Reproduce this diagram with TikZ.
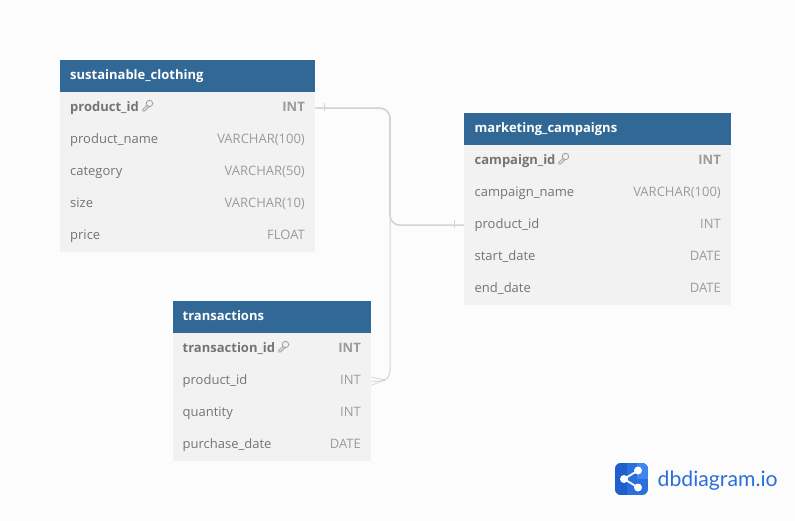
\documentclass[tikz,border=0pt]{standalone}
\usepackage{fontspec}
\setmainfont{Open Sans}
\newfontfamily\logofont{Lato}
\definecolor{bgc}{HTML}{FCFCFC}
\definecolor{headc}{HTML}{316896}
\definecolor{rowc}{HTML}{F2F2F2}
\definecolor{namec}{HTML}{747474}
\definecolor{typec}{HTML}{9B9B9B}
\definecolor{linec}{HTML}{D4D4D4}
\definecolor{logoa}{HTML}{2A6FDB}
\definecolor{logob}{HTML}{1F5FCB}
\definecolor{logoc}{HTML}{3F86EE}
\tikzset{
  head/.style={fill=headc,inner sep=0pt,anchor=north west,minimum height=32pt},
  rowbox/.style={fill=rowc,inner sep=0pt,anchor=north west,minimum height=32pt},
  title/.style={text=white,font=\fontsize{13}{13}\selectfont\bfseries,inner sep=0pt,anchor=base west},
  fname/.style={text=namec,font=\fontsize{13}{13}\selectfont,inner sep=0pt,anchor=base west},
  ftype/.style={text=typec,font=\fontsize{13}{13}\selectfont,inner sep=0pt,anchor=base east},
  pkname/.style={fname,font=\fontsize{13}{13}\selectfont\bfseries},
  pktype/.style={ftype,font=\fontsize{13}{13}\selectfont\bfseries},
  rel/.style={draw=linec,line width=1.6pt,rounded corners=10pt},
  relthin/.style={draw=linec,line width=1pt,rounded corners=10pt},
  tick/.style={draw=linec,line width=0.8pt},
  keyicon/.style={draw=typec,line width=0.8pt},
}
\newcommand{\keyat}[2]{%
  \draw[keyicon] (#1+7,#2-2.5) circle (3.2pt);
  \draw[keyicon] (#1+4.6,#2-0.6) -- (#1+0.3,#2+3.4) -- (#1+0.3,#2+5) -- (#1+2,#2+5) -- (#1+6.3,#2+0.7);
}
\begin{document}
\begin{tikzpicture}[x=1pt,y=-1pt]
\useasboundingbox[fill=bgc] (0,0) rectangle (795,521);

% sustainable_clothing
\node[head,minimum width=255pt] (sch) at (60,60) {};
\node[rowbox,minimum width=255pt] (sca) at (60,92) {};
\node[rowbox,minimum width=255pt] (scb) at (60,124) {};
\node[rowbox,minimum width=255pt] (scc) at (60,156) {};
\node[rowbox,minimum width=255pt] (scd) at (60,188) {};
\node[rowbox,minimum width=255pt] (sce) at (60,220) {};
\node[title] (scht) at (70,79.7) {sustainable\_clothing};
\node[pkname] (scan) at (70,111.7) {product\_id};
\node[pktype] (scat) at (305,111.7) {INT};
\node[fname] (scbn) at (70,143.7) {product\_name};
\node[ftype] (scbt) at (305,143.7) {VARCHAR(100)};
\node[fname] (sccn) at (70,175.7) {category};
\node[ftype] (scct) at (305,175.7) {VARCHAR(50)};
\node[fname] (scdn) at (70,207.7) {size};
\node[ftype] (scdt) at (305,207.7) {VARCHAR(10)};
\node[fname] (scen) at (70,239.7) {price};
\node[ftype] (scet) at (305,239.7) {FLOAT};
\keyat{142.5}{106}

% marketing_campaigns
\node[head,minimum width=267pt] (mch) at (464,113) {};
\node[rowbox,minimum width=267pt] (mca) at (464,145) {};
\node[rowbox,minimum width=267pt] (mcb) at (464,177) {};
\node[rowbox,minimum width=267pt] (mcc) at (464,209) {};
\node[rowbox,minimum width=267pt] (mcd) at (464,241) {};
\node[rowbox,minimum width=267pt] (mce) at (464,273) {};
\node[title] (mcht) at (474.5,132.7) {marketing\_campaigns};
\node[pkname] (mcan) at (474.5,164.7) {campaign\_id};
\node[pktype] (mcat) at (721,164.7) {INT};
\node[fname] (mcbn) at (474.5,196.7) {campaign\_name};
\node[ftype] (mcbt) at (721,196.7) {VARCHAR(100)};
\node[fname] (mccn) at (474.5,228.7) {product\_id};
\node[ftype] (mcct) at (721,228.7) {INT};
\node[fname] (mcdn) at (474.5,260.7) {start\_date};
\node[ftype] (mcdt) at (721,260.7) {DATE};
\node[fname] (mcen) at (474.5,292.7) {end\_date};
\node[ftype] (mcet) at (721,292.7) {DATE};
\keyat{558.5}{159}

% transactions
\node[head,minimum width=198.5pt] (trh) at (172.5,301) {};
\node[rowbox,minimum width=198.5pt] (tra) at (172.5,333) {};
\node[rowbox,minimum width=198.5pt] (trb) at (172.5,365) {};
\node[rowbox,minimum width=198.5pt] (trc) at (172.5,397) {};
\node[rowbox,minimum width=198.5pt] (trd) at (172.5,429) {};
\node[title] (trht) at (182.5,320) {transactions};
\node[pkname] (tran) at (182.5,352) {transaction\_id};
\node[pktype] (trat) at (361,352) {INT};
\node[fname] (trbn) at (182.5,384) {product\_id};
\node[ftype] (trbt) at (361,384) {INT};
\node[fname] (trcn) at (182.5,416) {quantity};
\node[ftype] (trct) at (361,416) {INT};
\node[fname] (trdn) at (182.5,448) {purchase\_date};
\node[ftype] (trdt) at (361,448) {DATE};
\keyat{278.5}{347}

% connectors
\coordinate (bend) at (390,165);
\draw[relthin] (sca.east) -| (bend) |- (trb.east);
\draw[rel] (sca.east) -| (bend) |- (mcc.west);
\coordinate (tickA) at (324,107);
\coordinate (tickB) at (454,224);
\draw[tick] ([yshift=-4pt]tickA) -- ([yshift=4pt]tickA);
\draw[tick] ([yshift=-4pt]tickB) -- ([yshift=4pt]tickB);
\coordinate (crow) at (385,380);
\draw[tick] (crow) -- ([yshift=-4pt]trb.east);
\draw[tick] (crow) -- ([yshift=4pt]trb.east);

% logo
\begin{scope}
\clip[rounded corners=6pt] (615,463) rectangle (648,495);
\fill[logoa] (615,463) rectangle (648,495);
\fill[logob] (615,463) rectangle (627,495);
\fill[logoc] (637,463) rectangle (648,479);
\end{scope}
\coordinate (la) at (624,479);
\coordinate (lb) at (638,470.5);
\coordinate (lc) at (638,487.5);
\draw[white,line width=1.8pt] (lb) -- (la) -- (lc);
\fill[white] (la) circle (4pt) (lb) circle (4pt) (lc) circle (4pt);
\node[anchor=base west,inner sep=0pt,text=logoa,font=\logofont\fontsize{21.2}{21.2}\selectfont] (logot) at (657.5,486) {dbdiagram.io};
\end{tikzpicture}
\end{document}
